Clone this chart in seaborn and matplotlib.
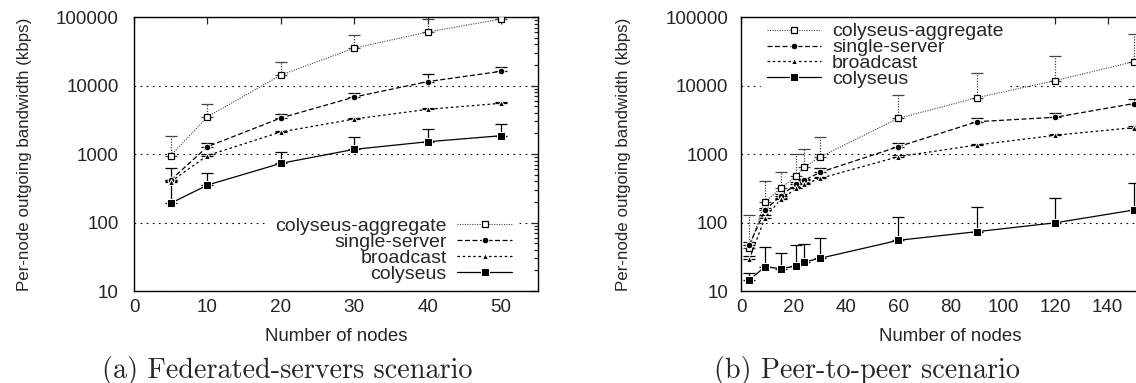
import numpy as np
import pandas as pd
import matplotlib
matplotlib.use("Agg")
import matplotlib.pyplot as plt
import matplotlib.ticker as ticker
import seaborn as sns

# (a) federated-servers scenario
fed_nodes = [5, 10, 20, 30, 40, 50]
fed_aggregate = [950, 3500, 14200, 35200, 60400, 93500]
fed_aggregate_top = [1850, 5370, 21800, 54000, 92500, 105000]
fed_single = [417, 1280, 3360, 6790, 11400, 16100]
fed_single_top = [617, 1465, 3800, 7690, 14700, 18500]
fed_broadcast = [395, 950, 2100, 3240, 4490, 5500]
fed_broadcast_top = [420, 1000, 2200, 3400, 4750, 5800]
fed_colyseus = [191, 352, 731, 1170, 1510, 1850]
fed_colyseus_top = [400, 522, 1060, 1770, 2290, 2740]

# (b) peer-to-peer scenario
p2p_nodes = [3, 9, 15, 21, 24, 30, 60, 90, 120, 150]
p2p_aggregate = [43, 201, 316, 482, 640, 904, 3320, 6640, 11800, 22300]
p2p_aggregate_top = [128, 407, 546, 1000, 1170, 1790, 7200, 15400, 27200, 55800]
p2p_single = [47, 152, 246, 365, 413, 540, 1280, 2960, 3440, 5450]
p2p_single_top = [52, 165, 262, 385, 435, 631, 1465, 3400, 3940, 6310]
p2p_broadcast = [29, 118, 217, 315, 360, 440, 914, 1355, 1876, 2430]
p2p_broadcast_top = [32, 128, 230, 330, 380, 465, 960, 1420, 1960, 2550]
p2p_colyseus = [14.5, 22.6, 21.2, 23.2, 26.5, 30, 55, 73.5, 99, 152]
p2p_colyseus_top = [18.5, 44, 36, 47, 49, 59, 119, 167, 225, 373]

series_names = ["colyseus-aggregate", "single-server", "broadcast", "colyseus"]
y_ticks = [10, 100, 1000, 10000, 100000]

styles = {
    "colyseus-aggregate": dict(color="#444444", linestyle=(0, (1, 1.2)), linewidth=0.8,
                               marker="s", markersize=4.8, markerfacecolor="white",
                               markeredgecolor="black", markeredgewidth=0.9),
    "single-server": dict(color="black", linestyle=(0, (4, 2)), linewidth=0.9,
                          marker="o", markersize=4.8),
    "broadcast": dict(color="black", linestyle=(0, (2, 2.2)), linewidth=0.9,
                      marker="^", markersize=4.0),
    "colyseus": dict(color="black", linestyle="-", linewidth=0.9,
                     marker="s", markersize=5.5),
}


def make_frame(nodes, values, tops):
    rows = []
    for name, vals, tp in zip(series_names, values, tops):
        for n, v, t in zip(nodes, vals, tp):
            rows.append({"nodes": n, "kbps": v, "top": t, "series": name})
    return pd.DataFrame(rows)


def draw_panel(ax, df):
    for name in series_names:
        sub = df[df["series"] == name]
        st = styles[name]
        eb = ax.errorbar(sub["nodes"], sub["kbps"],
                         yerr=[np.zeros(len(sub)), sub["top"] - sub["kbps"]],
                         fmt="none", ecolor=st["color"], elinewidth=0.9,
                         capsize=4, capthick=0.9, zorder=2)
        if name == "colyseus-aggregate":
            eb[2][0].set_linestyle((0, (1, 1.2)))
        sns.lineplot(data=sub, x="nodes", y="kbps", ax=ax, label=name,
                     errorbar=None, zorder=3, **st)
    ax.set_yscale("log")
    ax.set_ylim(10, 100000)
    ax.set_yticks(y_ticks)
    ax.yaxis.set_major_formatter(ticker.FuncFormatter(lambda v, p: f"{int(round(v))}"))
    ax.yaxis.set_minor_locator(ticker.LogLocator(base=10, subs=np.arange(2, 10)))
    ax.yaxis.set_minor_formatter(ticker.NullFormatter())
    ax.tick_params(which="both", direction="in", top=True, right=True,
                   labelsize=13.6, width=0.9)
    ax.tick_params(which="major", length=5)
    ax.tick_params(which="minor", length=3)
    ax.tick_params(axis="x", pad=6)
    ax.yaxis.grid(True, which="major", color="black", linewidth=0.8,
                  linestyle=(0, (1.5, 4)))
    ax.set_axisbelow(True)
    for sp in ax.spines.values():
        sp.set_linewidth(1.0)
        sp.set_color("black")
    ax.set_xlabel("Number of nodes", fontsize=13.4)
    ax.xaxis.label.set_va("baseline")
    ax.xaxis.set_label_coords(0.5, -0.1825)
    ax.set_ylabel("Per-node outgoing bandwidth (kbps)", fontsize=12.2)
    ax.yaxis.label.set_va("center")


sns.set_theme(style="white")
plt.rcParams["font.family"] = ["Liberation Sans", "DejaVu Sans"]

fig = plt.figure(figsize=(11.36, 3.83), dpi=100)
ax1 = fig.add_axes([0.118, 0.2402, 0.3554, 0.7154])
ax2 = fig.add_axes([0.6527, 0.2402, 0.3683, 0.7154])

fed_df = make_frame(fed_nodes,
                    [fed_aggregate, fed_single, fed_broadcast, fed_colyseus],
                    [fed_aggregate_top, fed_single_top, fed_broadcast_top, fed_colyseus_top])
p2p_df = make_frame(p2p_nodes,
                    [p2p_aggregate, p2p_single, p2p_broadcast, p2p_colyseus],
                    [p2p_aggregate_top, p2p_single_top, p2p_broadcast_top, p2p_colyseus_top])

draw_panel(ax1, fed_df)
ax1.set_xlim(0, 55)
ax1.set_xticks([0, 10, 20, 30, 40, 50])
ax1.tick_params(axis="y", pad=11)
ax1.yaxis.set_label_coords(-0.2725, 0.5)

draw_panel(ax2, p2p_df)
ax2.set_xlim(0, 160)
ax2.set_xticks(np.arange(0, 141, 20))
ax2.tick_params(axis="y", pad=9.5)
ax2.yaxis.set_label_coords(-0.282, 0.5)

legend_kw = dict(fontsize=14, handlelength=2.8, handletextpad=0.55,
                 labelspacing=-0.09, borderpad=0.3, borderaxespad=0,
                 frameon=True, fancybox=False, framealpha=1, edgecolor="white",
                 facecolor="white", numpoints=1)
leg1 = ax1.legend(loc="upper right", bbox_to_anchor=(0.95, 0.29), markerfirst=False, **legend_kw)
leg2 = ax2.legend(loc="upper left", bbox_to_anchor=(0.047, 1.0), markerfirst=True, **legend_kw)
# key box sits over the grid but under the data, like gnuplot
leg1.set_zorder(1)
leg2.set_zorder(1)

fig.text(0.253, 0.013, "(a) Federated-servers scenario", fontsize=20.3,
         family="cmr10", ha="center", va="baseline")
fig.text(0.763, 0.013, "(b) Peer-to-peer scenario", fontsize=20.3,
         family="cmr10", ha="center", va="baseline")

fig.savefig("out.png", dpi=100)
